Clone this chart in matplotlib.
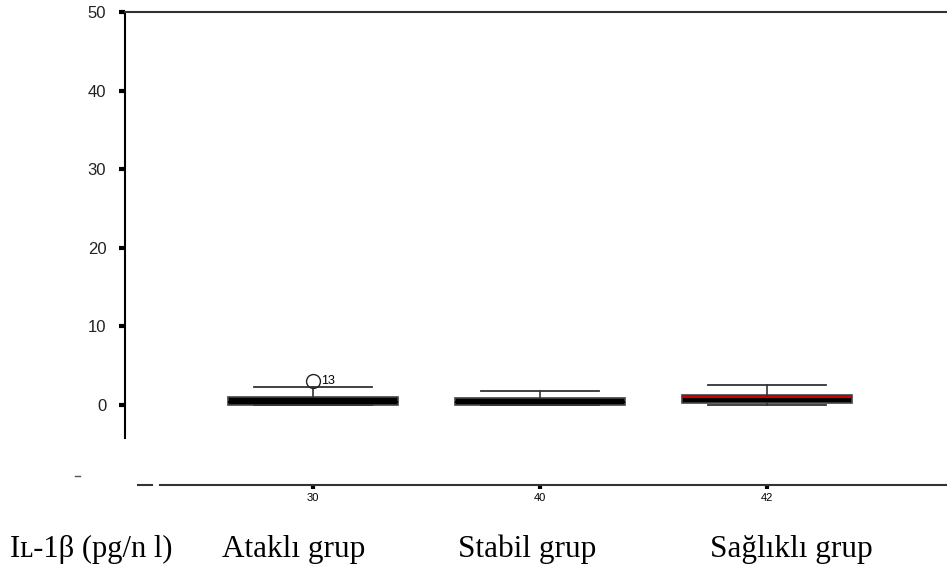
import matplotlib.pyplot as plt
from matplotlib.lines import Line2D

# IL-1beta levels per group (pg/ml), box summary values
groups = ['Ataklı grup', 'Stabil grup', 'Sağlıklı grup']
n_labels = ['30', '40', '42']
whislo = [0.0, 0.0, 0.0]
q1 = [0.05, 0.0, 0.25]
med = [0.4, 0.4, 1.0]
q3 = [1.0, 0.9, 1.3]
whishi = [2.3, 1.8, 2.5]
fliers = [[3.05], [], []]
flier_ids = [['13'], [], []]
y_ticks = [0, 10, 20, 30, 40, 50]

W, H = 947, 571
fig = plt.figure(figsize=(W / 100, H / 100), dpi=100)
ax = fig.add_axes([125 / W, 1 - 438 / H, 1 - 125 / W, (438 - 12) / H])

stats = []
for i in range(len(groups)):
    stats.append(dict(label=groups[i], whislo=whislo[i], q1=q1[i], med=med[i],
                      q3=q3[i], whishi=whishi[i], fliers=fliers[i]))

bp = ax.bxp(stats, positions=[1, 2, 3], widths=0.75, capwidths=0.52,
            patch_artist=True,
            boxprops=dict(facecolor='black', edgecolor='#444444', linewidth=1.2),
            whiskerprops=dict(color='#333333', linewidth=1.2),
            capprops=dict(color='#333333', linewidth=1.3),
            medianprops=dict(color='black', linewidth=1.5),
            flierprops=dict(marker='o', markerfacecolor='none',
                            markeredgecolor='#222222', markersize=10))
bp['medians'][2].set_color('#cc0000')

for i, (vals, ids) in enumerate(zip(fliers, flier_ids)):
    for v, t in zip(vals, ids):
        ax.annotate(t, (i + 1, v), xytext=(6, 0), textcoords='offset points',
                    va='center', ha='left', fontsize=9, family='Liberation Sans')

ax.set_xlim(0.172, 3.793)
ax.set_ylim(-4.2, 50)
ax.set_yticks(y_ticks)
ax.set_xticks([])
ax.spines['right'].set_visible(False)
ax.spines['bottom'].set_visible(False)
ax.spines['top'].set_color('#333333')
ax.spines['top'].set_linewidth(1.5)
ax.spines['left'].set_linewidth(1.5)
ax.tick_params(axis='y', length=4.5, width=3, pad=9, labelsize=12,
               labelcolor='#222222')
for lab in ax.get_yticklabels():
    lab.set_family('Liberation Sans')

# group sizes on a separate baseline below the plot
ax2 = fig.add_axes([125 / W, 1 - 485 / H, 1 - 125 / W, 0.001])
ax2.set_facecolor('none')
ax2.set_xlim(ax.get_xlim())
ax2.set_yticks([])
for s in ['top', 'left', 'right']:
    ax2.spines[s].set_visible(False)
ax2.spines['bottom'].set_bounds(0.326, 3.793)
ax2.spines['bottom'].set_color('#333333')
ax2.spines['bottom'].set_linewidth(1.5)
ax2.set_xticks([1, 2, 3], n_labels)
ax2.tick_params(axis='x', length=3, width=3, pad=3, labelsize=8)
for lab in ax2.get_xticklabels():
    lab.set_family('Liberation Sans')

fig.add_artist(Line2D([138 / W, 152 / W], [1 - 485 / H] * 2, color='#333333', lw=1.5))
fig.add_artist(Line2D([75 / W, 80 / W], [1 - 476 / H] * 2, color='#555555', lw=1))

serif = ['Liberation Serif', 'DejaVu Serif']
fig.text(10 / W, 1 - 557 / H, 'Iʟ-1β (pg/n l)', family=serif, fontsize=22, va='baseline')
text_x = [222, 458, 710]
for g, x in zip(groups, text_x):
    fig.text(x / W, 1 - 557 / H, g, family=serif, fontsize=22.5, va='baseline')

fig.savefig('out.png', dpi=100)
